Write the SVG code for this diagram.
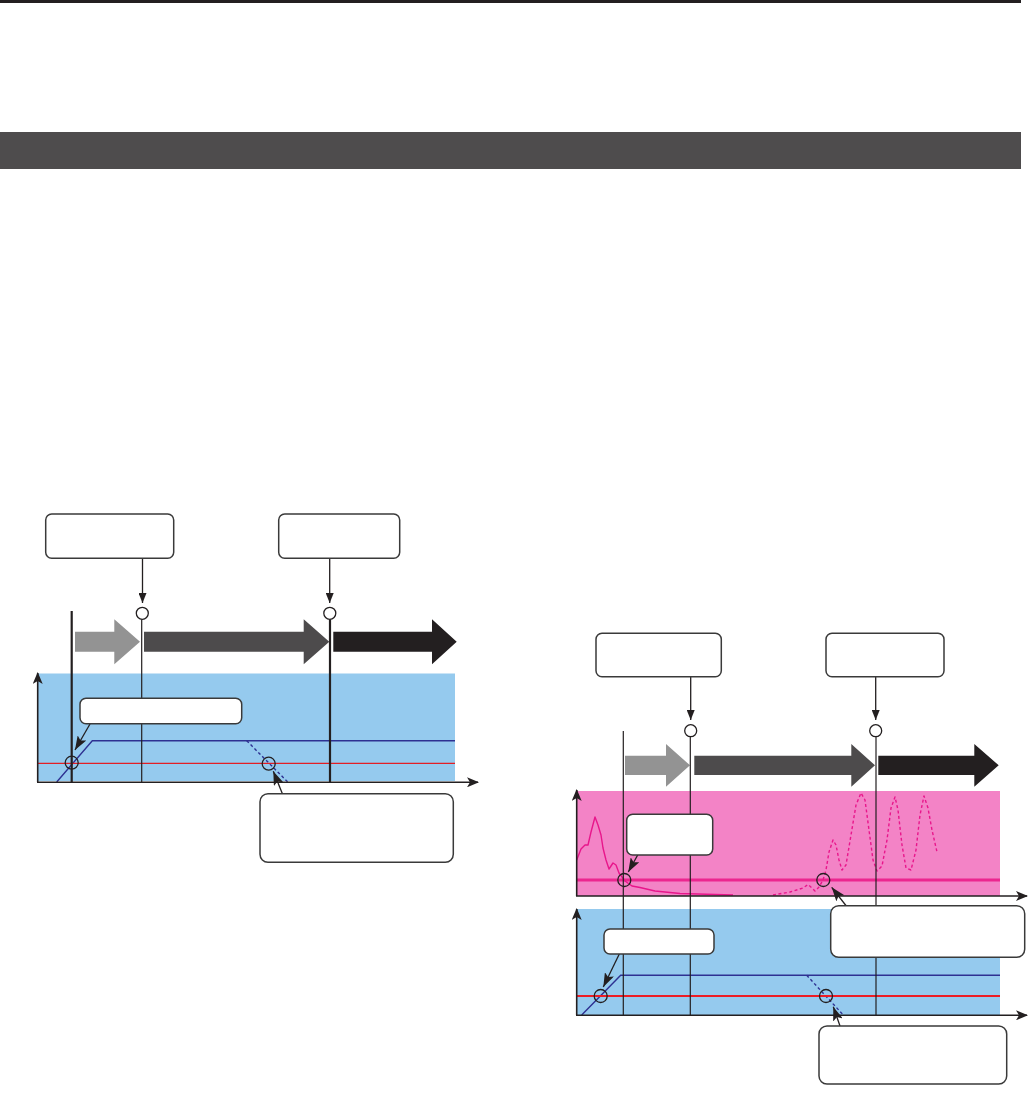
<svg xmlns="http://www.w3.org/2000/svg" width="1028" height="1094" viewBox="0 0 1028 1094">
<style>
.box{fill:#fff;stroke:#3a3a3a;stroke-width:1.5}
.ln{stroke:#231f20;fill:none}
.thin{stroke-width:1.2}
.thick{stroke-width:2.2}
.ax{stroke:#231f20;stroke-width:1.6;fill:none}
.ptr{stroke:#231f20;stroke-width:1.3;fill:none}
.mark{fill:none;stroke:#231f20;stroke-width:1.3}
.bl{stroke:#2e3192;stroke-width:1.4;fill:none}
.bld{stroke:#2e3192;stroke-width:1.4;fill:none;stroke-dasharray:3 2.5}
</style>
<defs>
<marker id="axh" viewBox="0 0 12 10" refX="11" refY="5" markerWidth="12" markerHeight="10" markerUnits="userSpaceOnUse" orient="auto">
<path d="M0,0 L12,5 L0,10 L3,5 z" fill="#231f20"/>
</marker>
<marker id="ph" viewBox="0 0 10 8" refX="10" refY="4" markerWidth="10" markerHeight="8" markerUnits="userSpaceOnUse" orient="auto">
<path d="M0,0 L10,4 L0,8 z" fill="#231f20"/>
</marker>
<marker id="ph2" viewBox="0 0 14 10" refX="14" refY="5" markerWidth="14" markerHeight="10" markerUnits="userSpaceOnUse" orient="auto">
<path d="M0,0 L14,5 L0,10 L3,5 z" fill="#231f20"/>
</marker>
</defs>

<rect x="0" y="0" width="1021" height="3" fill="#231f20"/>
<rect x="0" y="132" width="1021" height="37" fill="#4e4c4d"/>

<!-- LEFT DIAGRAM -->
<rect x="37.5" y="673.5" width="417.5" height="107.5" fill="#95caee"/>
<g id="left-phase-arrows">
<path d="M75,631.7 H114.3 V619.3 L140,641.7 L114.3,664.3 V651.7 H75 z" fill="#939393"/>
<path d="M144,631.7 H303.7 V619.3 L329.3,641.7 L303.7,664.3 V651.7 H144 z" fill="#4d4b4c"/>
<path d="M333.3,631.7 H432 V619.3 L456.7,641.7 L432,664.3 V651.7 H333.3 z" fill="#231f20"/>
</g>
<path d="M56.7,782 L92.3,740.7 H455" class="bl"/>
<path d="M246.7,740.7 L287.7,782" class="bld"/>
<line x1="37.5" y1="763.3" x2="455" y2="763.3" stroke="#e31e24" stroke-width="1.3"/>

<g id="connectors">
<line x1="71.7" y1="611" x2="71.7" y2="783" class="ln thick"/>
<line x1="141.7" y1="619.5" x2="141.7" y2="782" class="ln thin"/>
<line x1="330" y1="619.5" x2="330" y2="782" class="ln thick"/>
<line x1="37.7" y1="782.3" x2="37.7" y2="673" class="ax" marker-end="url(#axh)"/>
<line x1="37" y1="782.3" x2="478" y2="782.3" class="ax" marker-end="url(#axh)"/>
<line x1="142.5" y1="558.5" x2="142.5" y2="603" class="ptr" marker-end="url(#ph)"/>
<line x1="329.7" y1="558.5" x2="329.7" y2="603" class="ptr" marker-end="url(#ph)"/>
<line x1="90" y1="724" x2="75" y2="750" class="ptr" marker-end="url(#ph2)"/>
<line x1="282.3" y1="793.5" x2="273.3" y2="771.2" class="ptr" marker-end="url(#ph2)"/>
</g>
<circle cx="142.3" cy="613.3" r="6" class="mark"/>
<circle cx="329.8" cy="613.3" r="6" class="mark"/>
<circle cx="71.7" cy="762.7" r="6.5" class="mark"/>
<circle cx="268.7" cy="763.7" r="6.5" class="mark"/>

<g id="left-box-1"><rect x="45.7" y="514" width="128" height="44.3" rx="6" class="box"/></g>
<g id="left-box-2"><rect x="278.7" y="514" width="121" height="44.3" rx="6" class="box"/></g>
<g id="left-callout-1"><rect x="80" y="698.3" width="161.7" height="25.4" rx="6" class="box"/></g>
<g id="left-callout-2"><rect x="260" y="793.7" width="193.3" height="68.6" rx="8" class="box"/></g>

<!-- RIGHT DIAGRAM -->
<rect x="576.7" y="791" width="423.3" height="105" fill="#f383c6"/>
<rect x="576.7" y="909" width="423.3" height="106" fill="#95caee"/>
<g id="right-phase-arrows">
<path d="M625,755.7 H666 V744 L690,765.3 L666,786.7 V775 H625 z" fill="#939393"/>
<path d="M694.3,755.7 H851.3 V744 L875,765.3 L851.3,786.7 V775 H694.3 z" fill="#4d4b4c"/>
<path d="M878.3,755.7 H974.3 V744 L998.7,765.3 L974.3,786.7 V775 H878.3 z" fill="#231f20"/>
</g>
<line x1="576.7" y1="880" x2="1000" y2="880" stroke="#ec268f" stroke-width="3"/>
<path d="M576.7,860 L581,849 L585,845 L588,845 L591,832 L595,817 L598,825 L601,835 L603,848 L606,860 L609,869 L613,863 L616,865 L619,873 L625,881 L632,886 L640,887.5 L655,891 L680,893.5 L733,895" fill="none" stroke="#e8168b" stroke-width="1.4" stroke-linejoin="round"/>
<path d="M773,895 L790,892 L803,888 L808,884.5 L812,888 L815,891 L819,887 L823,880 L826,870 L829,852 L833,840 L836,845 L839,860 L842,870 L846,865 L851,835 L856,805 L861,793 L865,800 L869,830 L873,860 L877,871 L882,866 L887,840 L891,808 L895,797 L898,810 L902,845 L906,868 L911,870 L916,850 L920,815 L924,796 L928,808 L932,830 L937,852" fill="none" stroke="#e8168b" stroke-width="1.4" stroke-dasharray="3 2.5" stroke-linejoin="round"/>
<path d="M581.7,1015 L620.7,975.3 H1000" class="bl"/>
<path d="M806.7,975.3 L843.3,1015" class="bld"/>
<line x1="576.7" y1="996" x2="1000" y2="996" stroke="#ed1c24" stroke-width="2"/>

<g id="connectors-right">
<line x1="623.3" y1="731" x2="623.3" y2="1015" class="ln thin"/>
<line x1="690.3" y1="737" x2="690.3" y2="1015" class="ln thin"/>
<line x1="876" y1="737" x2="876" y2="1015" class="ln thin"/>
<line x1="576.7" y1="896" x2="576.7" y2="790" class="ax" marker-end="url(#axh)"/>
<line x1="576" y1="896" x2="1027" y2="896" class="ax" marker-end="url(#axh)"/>
<line x1="576.7" y1="1015.3" x2="576.7" y2="909" class="ax" marker-end="url(#axh)"/>
<line x1="576" y1="1015.3" x2="1027" y2="1015.3" class="ax" marker-end="url(#axh)"/>
<line x1="690.7" y1="677" x2="690.7" y2="720" class="ptr" marker-end="url(#ph)"/>
<line x1="875.7" y1="677" x2="875.7" y2="720" class="ptr" marker-end="url(#ph)"/>
<line x1="637.7" y1="855" x2="628.3" y2="872" class="ptr" marker-end="url(#ph2)"/>
<line x1="846.7" y1="906.5" x2="831.7" y2="887.3" class="ptr" marker-end="url(#ph2)"/>
<line x1="619.3" y1="954" x2="603.3" y2="987" class="ptr" marker-end="url(#ph2)"/>
<line x1="840" y1="1026" x2="833.3" y2="1006.7" class="ptr" marker-end="url(#ph2)"/>
</g>
<circle cx="690.7" cy="730.7" r="6" class="mark"/>
<circle cx="875.7" cy="730.7" r="6" class="mark"/>
<circle cx="624.3" cy="880" r="6.5" class="mark"/>
<circle cx="823.3" cy="880" r="6.5" class="mark"/>
<circle cx="600.7" cy="996" r="6.5" class="mark"/>
<circle cx="826" cy="996" r="6.5" class="mark"/>

<g id="right-box-1"><rect x="596" y="633.3" width="125.3" height="43.4" rx="6" class="box"/></g>
<g id="right-box-2"><rect x="826" y="633.3" width="118" height="43.4" rx="6" class="box"/></g>
<g id="right-callout-1"><rect x="626.7" y="814.3" width="86" height="40.7" rx="6" class="box"/></g>
<g id="right-callout-2"><rect x="830.7" y="905.7" width="194" height="51.6" rx="8" class="box"/></g>
<g id="right-callout-3"><rect x="604" y="929" width="110" height="25" rx="6" class="box"/></g>
<g id="right-callout-4"><rect x="819" y="1026" width="187.7" height="58" rx="8" class="box"/></g>
</svg>
